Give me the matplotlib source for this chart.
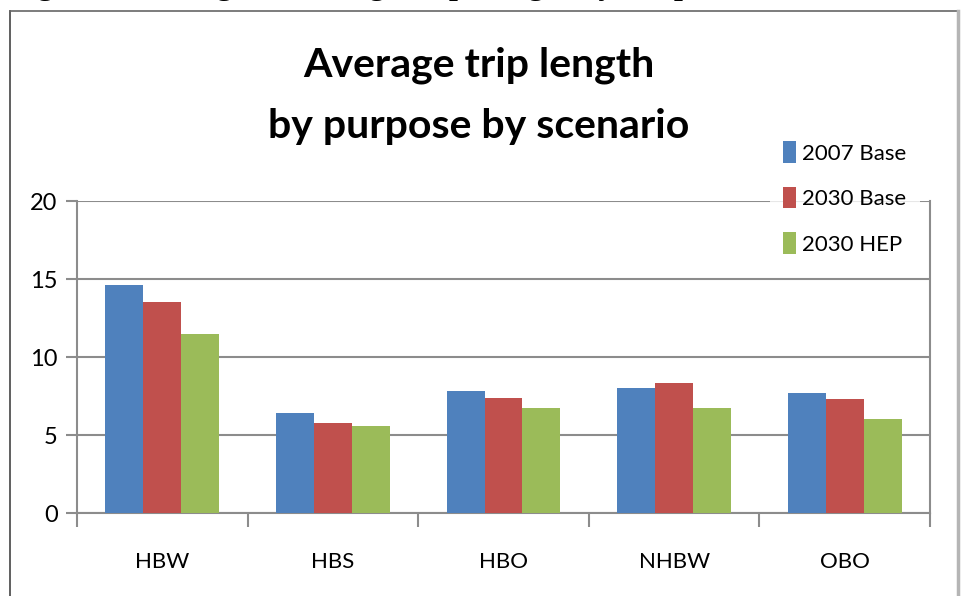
import numpy as np
import matplotlib
matplotlib.use("Agg")
import matplotlib.pyplot as plt
from matplotlib.patches import Patch
from matplotlib.lines import Line2D

# average trip length (miles) per trip purpose and scenario
purposes = ["HBW", "HBS", "HBO", "NHBW", "OBO"]
scenarios = ["2007 Base", "2030 Base", "2030 HEP"]
base_2007 = [14.6, 6.4, 7.8, 8.0, 7.7]
base_2030 = [13.5, 5.8, 7.35, 8.35, 7.3]
hep_2030 = [11.5, 5.55, 6.7, 6.7, 6.05]
colours = ["#4F81BD", "#C0504D", "#9BBB59"]
y_ticks = [0, 5, 10, 15, 20]

grey = "#8c8c8c"
plt.rcParams["font.family"] = ["Lato", "DejaVu Sans"]

fig = plt.figure(figsize=(9.64, 5.96), dpi=100)
ax = fig.add_axes([77 / 964, 1 - 513 / 596, (930 - 77) / 964, (513 - 201) / 596])

x = np.arange(len(purposes))
w = 0.222
series = [base_2007, base_2030, hep_2030]
for k, vals in enumerate(series):
    ax.bar(x + (k - 1) * w, vals, width=w, color=colours[k], zorder=3)

ax.set_xlim(-0.5, len(purposes) - 0.5)
ax.set_ylim(0, 20)
ax.set_yticks(y_ticks)
ax.yaxis.grid(True, color=grey, linewidth=1.5, zorder=0)
ax.set_axisbelow(True)

# category labels under the groups, boundary ticks between them
ax.set_xticks(x)
ax.set_xticklabels(purposes, fontsize=16)
ax.tick_params(axis="x", which="major", length=0, pad=28)
ax.set_xticks(np.arange(-0.5, len(purposes)), minor=True)
ax.tick_params(axis="x", which="minor", length=10, width=1.5, color=grey)
ax.tick_params(axis="y", length=8, width=1.5, color=grey, labelsize=17, pad=6)

for side in ["left", "right", "bottom"]:
    ax.spines[side].set_color(grey)
    ax.spines[side].set_linewidth(1.5)
ax.spines["top"].set_visible(False)

handles = [Patch(facecolor=c) for c in colours]
leg = fig.legend(handles, scenarios, loc="upper left",
                 bbox_to_anchor=(770 / 964, 1 - 128 / 596),
                 fontsize=16, frameon=True, fancybox=False,
                 handlelength=0.55, handleheight=1.1, handletextpad=0.3,
                 labelspacing=1.05, borderpad=0.6, borderaxespad=0)
leg.get_frame().set_facecolor("white")
leg.get_frame().set_edgecolor("white")
leg.get_frame().set_linewidth(0)
leg.set_zorder(5)

fig.text(0.497, 1 - 96 / 596, "Average trip length\nby purpose by scenario",
         ha="center", va="center", fontsize=29.5, fontweight="bold",
         linespacing=1.8)

# caption of the report page, mostly cut off at the top edge
fig.text(8.6 / 964, 1 + 6 / 596, "Figure 6: Change in Average Trip Length by Purpose",
         ha="left", va="baseline", fontsize=23, fontweight="bold",
         family=["Liberation Serif", "DejaVu Serif"])

# page frame around the chart object
fig.add_artist(Line2D([10 / 964, 10 / 964], [0, 1 - 11 / 596], color="#444444",
                      linewidth=1.2, transform=fig.transFigure))
fig.add_artist(Line2D([10 / 964, 958 / 964], [1 - 11 / 596, 1 - 11 / 596],
                      color="#666666", linewidth=1.2, transform=fig.transFigure))
fig.add_artist(Line2D([958 / 964, 958 / 964], [0, 1 - 11 / 596], color="#b5b5b5",
                      linewidth=2.5, transform=fig.transFigure))

fig.savefig("out.png", dpi=100)
